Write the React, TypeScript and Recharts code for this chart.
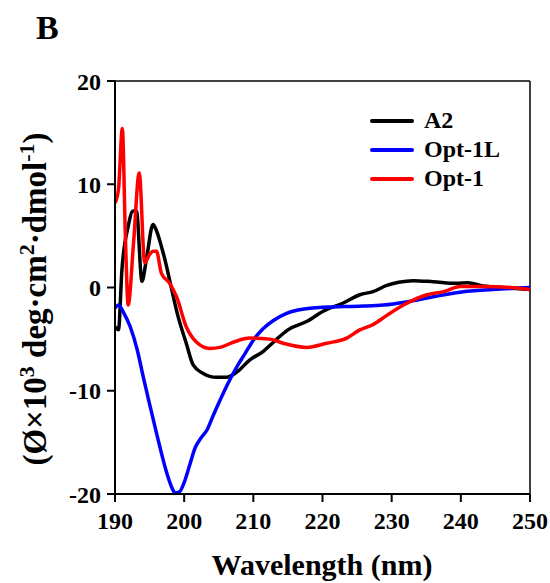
import React from 'react';
import { LineChart, Line, XAxis, YAxis, ReferenceLine } from 'recharts';

// wavelength (nm), mean residue ellipticity (x10^3)
const a2Spectrum: [number, number][] = [
  [190, -3.8], [190.5, -4.1], [191.0, 1.7], [191.9, 5.9], [192.6, 7.4], [193.1, 7.4],
  [193.9, 0.6], [194.6, 3.0], [195.5, 6.1], [196.0, 5.5], [196.7, 4.0], [197.4, 2.2],
  [198.1, 0.1], [199.0, -2.5], [200.3, -5.4], [201.3, -7.5], [202.7, -8.3], [204.7, -8.7],
  [206.1, -8.7], [207.6, -8.2], [209.5, -7.0], [211.4, -6.2], [212.9, -5.3], [215.0, -4.1],
  [217.7, -3.3], [220.1, -2.3], [223.0, -1.5], [225.4, -0.7], [227.3, -0.4], [229.3, 0.2],
  [231.0, 0.5], [233.1, 0.66], [236.0, 0.56], [239.4, 0.4], [241.0, 0.45], [243.2, 0.15],
  [246.0, 0.0], [250, -0.2],
];

const opt1LSpectrum: [number, number][] = [
  [190, -2.0], [190.5, -1.7], [191.3, -2.5], [192.2, -3.8], [193.2, -6.0], [194.1, -8.7],
  [195.0, -11.3], [196.0, -14.1], [197.5, -18.0], [198.3, -19.5], [198.7, -19.9], [199.3, -19.8],
  [200.1, -18.7], [200.8, -17.2], [201.6, -15.5], [202.4, -14.6], [203.3, -13.8], [204.2, -12.4],
  [205.2, -10.9], [206.4, -9.2], [207.6, -7.7], [208.8, -6.4], [210.0, -5.1], [211.4, -4.0],
  [212.9, -3.2], [214.8, -2.5], [216.3, -2.2], [218.2, -2.0], [220.6, -1.9], [223.0, -1.85],
  [226.0, -1.8], [228.8, -1.7], [232.1, -1.4], [236.0, -0.9], [239.9, -0.45], [244.7, -0.2],
  [250, 0.0],
];

const opt1Spectrum: [number, number][] = [
  [190, 8.2], [190.5, 9.5], [191.06, 15.4], [191.5, 5.0], [191.9, -1.7], [192.7, 4.5],
  [193.5, 11.1], [194.3, 2.4], [195.0, 3.2], [195.5, 3.5], [196.0, 3.5], [196.7, 1.4],
  [197.9, 0.4], [198.9, -0.9], [200.3, -3.8], [201.8, -5.3], [203.7, -5.9], [205.2, -5.8],
  [207.1, -5.3], [209.5, -4.9], [212.4, -5.0], [214.3, -5.4], [217.7, -5.8], [220.6, -5.4],
  [223.5, -4.9], [225.4, -4.1], [227.3, -3.6], [229.3, -2.7], [231.7, -1.7], [235.1, -0.7],
  [237.5, -0.4], [239.9, 0.1], [243.2, 0.1], [247.1, 0.0], [250, -0.2],
];

const seriesNames = ['A2', 'Opt-1L', 'Opt-1'];
const seriesColors = ['#000000', '#0000ff', '#ff0000'];
const seriesData = [a2Spectrum, opt1LSpectrum, opt1Spectrum];

const wavelengthTicks = [190, 200, 210, 220, 230, 240, 250];
const ellipticityTicks = [-20, -10, 0, 10, 20];

const FONT = '"Liberation Serif", "Times New Roman", serif';

const toRows = (pts: [number, number][]) => pts.map(([x, y]) => ({ x, y }));

const YTitle = () => {
  const cx = 46;
  const cy = 299;
  return (
    <text
      x={cx}
      y={cy}
      transform={`rotate(-90, ${cx}, ${cy})`}
      textAnchor="middle"
      fontFamily={FONT}
      fontWeight="bold"
      fontSize={33}
      fill="#000"
    >
      (Ø×10<tspan dy={-12} fontSize={22}>3</tspan>
      <tspan dy={12}> deg·cm</tspan>
      <tspan dy={-12} fontSize={22}>2</tspan>
      <tspan dy={12}>·dmol</tspan>
      <tspan dy={-12} fontSize={22}>-1</tspan>
      <tspan dy={12}>)</tspan>
    </text>
  );
};

const XTitle = () => (
  <text x={322} y={575} textAnchor="middle" fontFamily={FONT} fontWeight="bold" fontSize={30} fill="#000">
    Wavelength (nm)
  </text>
);

export default function App() {
  const tickStyle = { fontFamily: FONT, fontWeight: 'bold', fontSize: 24, fill: '#000' };
  return (
    <div style={{ position: 'relative', width: 550, height: 583 }}>
      <style>{'body{margin:0}'}</style>
      <div
        style={{
          position: 'absolute', left: 36, top: 10, fontFamily: FONT, fontWeight: 'bold',
          fontSize: 34, lineHeight: '36px', color: '#000',
        }}
      >
        B
      </div>
      <LineChart width={550} height={583} margin={{ top: 81, right: 20, bottom: 59, left: 55 }}>
        <XAxis
          type="number"
          dataKey="x"
          domain={[190, 250]}
          ticks={wavelengthTicks}
          allowDataOverflow
          stroke="#000"
          strokeWidth={2}
          tickSize={8}
          tickMargin={10}
          tick={tickStyle}
          height={30}
          label={<XTitle />}
        />
        <YAxis
          type="number"
          dataKey="y"
          domain={[-20, 20]}
          ticks={ellipticityTicks}
          allowDataOverflow
          stroke="#000"
          strokeWidth={2}
          tickSize={8}
          tickMargin={6}
          tick={tickStyle}
          width={60}
          label={<YTitle />}
        />
        <ReferenceLine y={20} stroke="#000" strokeWidth={1.5} />
        <ReferenceLine x={250} stroke="#000" strokeWidth={1.5} />
        {seriesData.map((pts, i) => (
          <Line
            key={seriesNames[i]}
            data={toRows(pts)}
            dataKey="y"
            name={seriesNames[i]}
            type="monotone"
            stroke={seriesColors[i]}
            strokeWidth={3.5}
            strokeLinejoin="round"
            dot={false}
            isAnimationActive={false}
          />
        ))}
      </LineChart>
      <div style={{ position: 'absolute', left: 370, top: 106, fontFamily: FONT, fontWeight: 'bold', fontSize: 24 }}>
        {seriesNames.map((name, i) => (
          <div key={name} style={{ display: 'flex', alignItems: 'center', height: 29 }}>
            <div style={{ width: 44, height: 4, background: seriesColors[i], borderRadius: 2, marginRight: 10 }} />
            <span style={{ lineHeight: '29px' }}>{name}</span>
          </div>
        ))}
      </div>
    </div>
  );
}
